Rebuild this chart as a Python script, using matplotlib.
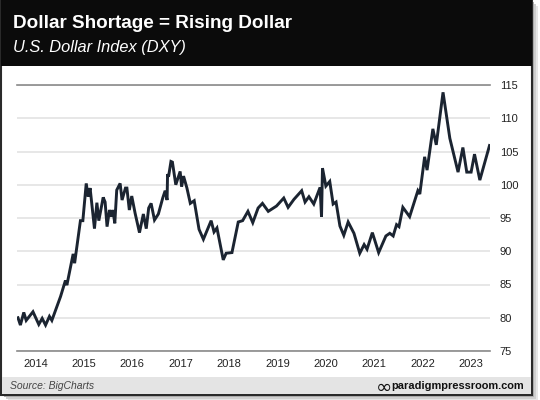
import matplotlib
matplotlib.use("Agg")
import matplotlib.pyplot as plt
from matplotlib.patches import Rectangle

# U.S. Dollar Index (DXY)
years = [2013.64, 2013.69, 2013.76, 2013.81, 2013.95, 2014.07, 2014.14, 2014.21, 2014.29, 2014.34,
         2014.52, 2014.62, 2014.65, 2014.78, 2014.81, 2014.93, 2014.98, 2015.05, 2015.09, 2015.13,
         2015.22, 2015.27, 2015.31, 2015.40, 2015.44, 2015.48, 2015.53, 2015.57, 2015.60, 2015.64,
         2015.68, 2015.75, 2015.79, 2015.86, 2015.89, 2015.94, 2015.99, 2016.06, 2016.15, 2016.23,
         2016.29, 2016.34, 2016.39, 2016.46, 2016.54, 2016.63, 2016.68, 2016.72, 2016.73, 2016.75,
         2016.80, 2016.83, 2016.90, 2016.99, 2017.02, 2017.06, 2017.13, 2017.20, 2017.28, 2017.38,
         2017.47, 2017.63, 2017.69, 2017.75, 2017.88, 2017.94, 2018.06, 2018.19, 2018.28, 2018.39,
         2018.49, 2018.60, 2018.69, 2018.81, 2018.98, 2019.13, 2019.22, 2019.34, 2019.50, 2019.57,
         2019.65, 2019.75, 2019.88, 2019.91, 2019.93, 2020.00, 2020.08, 2020.15, 2020.21, 2020.29,
         2020.37, 2020.46, 2020.58, 2020.70, 2020.79, 2020.85, 2020.96, 2021.09, 2021.24, 2021.32,
         2021.39, 2021.46, 2021.51, 2021.59, 2021.73, 2021.90, 2021.94, 2022.04, 2022.09, 2022.21,
         2022.28, 2022.42, 2022.56, 2022.73, 2022.83, 2022.91, 2023.00, 2023.07, 2023.18, 2023.38]
dxy = [80.0, 78.9, 80.8, 79.6, 80.9, 79.0, 79.9, 78.9, 80.2, 79.6,
       83.2, 85.6, 84.9, 89.6, 88.2, 94.6, 94.6, 100.2, 98.2, 99.5,
       93.4, 97.3, 94.6, 98.1, 97.4, 93.7, 96.2, 95.2, 96.2, 94.2,
       99.2, 100.2, 97.7, 99.5, 99.5, 96.2, 98.3, 95.7, 92.8, 95.6,
       93.4, 96.5, 97.2, 94.7, 95.6, 98.0, 99.1, 97.7, 101.6, 101.2,
       103.5, 103.4, 100.0, 102.0, 99.7, 101.3, 99.5, 97.2, 97.6, 93.3,
       91.8, 94.6, 92.9, 93.5, 88.7, 89.7, 89.8, 94.4, 94.6, 96.0,
       94.3, 96.5, 97.2, 96.0, 96.8, 98.0, 96.6, 97.8, 99.1, 97.4,
       98.2, 97.1, 99.6, 95.2, 102.5, 99.8, 100.5, 97.1, 97.4, 93.8,
       92.4, 94.4, 92.7, 89.7, 91.0, 90.3, 92.8, 89.8, 92.3, 92.7,
       92.3, 94.0, 93.7, 96.6, 95.2, 99.1, 98.6, 104.2, 102.2, 108.4,
       106.0, 113.9, 107.0, 101.9, 105.6, 101.9, 101.9, 104.6, 100.7, 105.9]

year_ticks = [2014, 2015, 2016, 2017, 2018, 2019, 2020, 2021, 2022, 2023]
value_ticks = [75, 80, 85, 90, 95, 100, 105, 110, 115]

plt.rcParams['font.family'] = ['Liberation Sans', 'DejaVu Sans']

W, H = 540, 400
fig = plt.figure(figsize=(5.4, 4), dpi=100)
fig.patch.set_facecolor('white')


def fx(px):
    return px / W


def fy(py):
    return 1 - py / H


# soft shadow at the right and bottom of the card
for off, col in [(6, '#e6e6e6'), (4, '#cfcfcf'), (2, '#b0b0b0')]:
    fig.patches.append(Rectangle((fx(2 + off), fy(395 + off)), fx(530), fy(0) - fy(395),
                                 transform=fig.transFigure, facecolor=col, edgecolor='none', zorder=0))
# card
fig.patches.append(Rectangle((fx(1), fy(395)), fx(531), fy(0) - fy(395), transform=fig.transFigure,
                             facecolor='white', edgecolor='#2a2a2a', lw=1.5, zorder=1))
# black title band
fig.patches.append(Rectangle((fx(1), fy(66)), fx(531), fy(0) - fy(66), transform=fig.transFigure,
                             facecolor='#0b0b0b', edgecolor='none', zorder=2))
# grey footer band
fig.patches.append(Rectangle((fx(2), fy(394)), fx(529), fy(377) - fy(394), transform=fig.transFigure,
                             facecolor='#e4e4e4', edgecolor='none', zorder=2))

fig.text(fx(13), fy(28), 'Dollar Shortage = Rising Dollar', color='white', fontsize=13.6,
         fontweight='bold', va='baseline', ha='left', zorder=3)
fig.text(fx(13), fy(52), 'U.S. Dollar Index (DXY)', color='white', fontsize=11.8,
         fontstyle='italic', va='baseline', ha='left', zorder=3)
fig.text(fx(10), fy(386), 'Source: BigCharts', color='#444444', fontsize=7.5,
         fontstyle='italic', va='center', ha='left', zorder=3)
fig.text(fx(524), fy(386), 'paradigmpressroom.com', color='#111111', fontsize=7.9,
         fontweight='bold', va='center', ha='right', zorder=3)
fig.text(fx(392), fy(387), '\u221e', color='#111111', fontsize=14, family=['DejaVu Sans'],
         va='center', ha='right', zorder=3)

ax = fig.add_axes([fx(17), fy(351), fx(490) - fx(17), fy(85) - fy(351)])
ax.set_zorder(4)
ax.patch.set_alpha(0)
ax.plot(years, dxy, color='#1b2431', lw=2.1, solid_joinstyle='miter', zorder=3)

ax.set_xlim(2013.62, 2023.39)
ax.set_ylim(75, 115)
ax.set_xticks(year_ticks)
ax.set_xticklabels([str(y) for y in year_ticks])
ax.set_yticks(value_ticks)
ax.yaxis.tick_right()
ax.tick_params(axis='both', length=0, labelsize=8, colors='#222222')
ax.tick_params(axis='y', pad=7)
ax.tick_params(axis='x', pad=6)
ax.grid(axis='y', color='#e3e3e3', lw=1.2)
for side in ['left', 'right']:
    ax.spines[side].set_visible(False)
for side in ['top', 'bottom']:
    ax.spines[side].set_color('#8a8a8a')
    ax.spines[side].set_linewidth(1.2)

fig.savefig('out.png', dpi=100)
